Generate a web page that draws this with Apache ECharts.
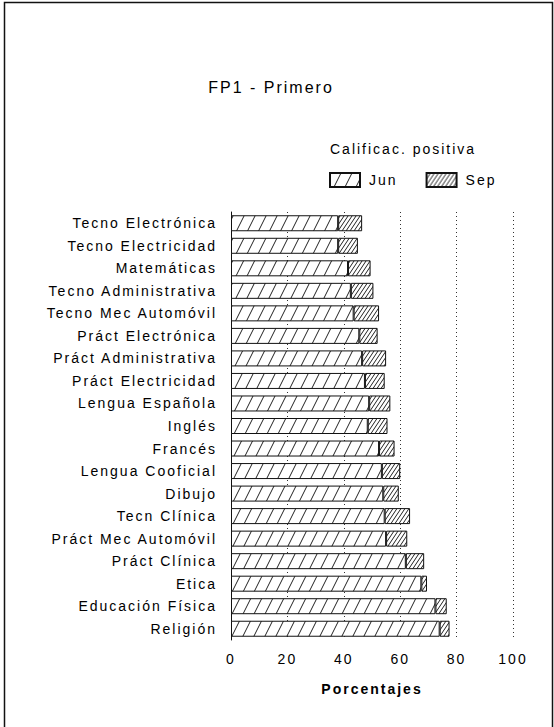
<!DOCTYPE html>
<html>
<head>
<meta charset="utf-8">
<script src="https://cdn.jsdelivr.net/npm/echarts@6/dist/echarts.min.js"></script>
<style>
  html, body { margin: 0; padding: 0; background: #fff; }
  #chart { width: 554px; height: 727px; }
  /* the scanned chart has wide tracking on all its text */
  #chart text { letter-spacing: 2px; }
</style>
</head>
<body>
<div id="chart"></div>
<script>
const categories = [
  "Tecno Electrónica", "Tecno Electricidad", "Matemáticas", "Tecno Administrativa",
  "Tecno Mec Automóvil", "Práct Electrónica", "Práct Administrativa", "Práct Electricidad",
  "Lengua Española", "Inglés", "Francés", "Lengua Cooficial", "Dibujo", "Tecn Clínica",
  "Práct Mec Automóvil", "Práct Clínica", "Etica", "Educación Física", "Religión"
];
const junValues = [38, 38, 41.5, 42.5, 43.5, 45.5, 46.5, 47.5, 49, 48.5, 52.5, 53.5, 54, 54.5, 55, 62, 67.5, 72.5, 74];
const sepValues = [8.5, 7, 8, 8, 9, 6.5, 8.5, 7, 7.5, 7, 5.5, 6.5, 5.5, 9, 7.5, 6.5, 2, 4, 3.5];
const xTicks = [0, 20, 40, 60, 80, 100];

const FONT = "Liberation Sans";

// diagonal hatch tile: lines go from bottom-left to top-right
function hatch(w, h) {
  const c = document.createElement("canvas");
  c.width = w; c.height = h;
  const ctx = c.getContext("2d");
  ctx.fillStyle = "#fff";
  ctx.fillRect(0, 0, w, h);
  ctx.strokeStyle = "#222";
  ctx.lineWidth = 1;
  for (let k = -1; k <= 1; k++) {
    ctx.beginPath();
    ctx.moveTo(k * w, h);
    ctx.lineTo(k * w + w, 0);
    ctx.stroke();
  }
  return c;
}

const chart = echarts.init(document.getElementById("chart"), null, { renderer: "svg" });

chart.setOption({
  animation: false,
  backgroundColor: "#fff",
  graphic: [{
    type: "rect",
    shape: { x: 4.5, y: 2.5, width: 548, height: 740 },
    style: { fill: "none", stroke: "#111", lineWidth: 1.5 },
    z: -1
  }],
  title: [
    {
      text: "FP1 - Primero",
      left: 266, top: 74, textAlign: "center",
      textStyle: { fontFamily: FONT, fontSize: 16, fontWeight: "normal", color: "#000" }
    },
    {
      text: "Calificac. positiva",
      left: 325, top: 137,
      textStyle: { fontFamily: FONT, fontSize: 14, fontWeight: "normal", color: "#000" }
    }
  ],
  legend: {
    left: 324, top: 167,
    itemWidth: 30, itemHeight: 14, itemGap: 34,
    icon: "rect",
    textStyle: { fontFamily: FONT, fontSize: 14, color: "#000", padding: [0, 0, 0, 4] },
    data: ["Jun", "Sep"]
  },
  grid: { left: 231, right: 41, top: 212, height: 428, containLabel: false },
  xAxis: {
    type: "value",
    min: 0, max: 100, interval: 20,
    axisLine: { show: false },
    axisTick: { show: false },
    axisLabel: {
      margin: 12, fontFamily: FONT, fontSize: 14, color: "#000",
      formatter: v => xTicks.includes(v) ? String(v) : ""
    },
    splitLine: { show: true, lineStyle: { type: [1, 3], color: "#333", width: 1 } },
    name: "Porcentajes",
    nameLocation: "middle",
    nameGap: 42,
    nameTextStyle: { fontFamily: FONT, fontSize: 14, fontWeight: "bold", color: "#000" }
  },
  yAxis: {
    type: "category",
    data: categories,
    inverse: true,
    axisLine: { show: true, lineStyle: { color: "#111", width: 1 } },
    axisTick: { show: false },
    axisLabel: { margin: 14, fontFamily: FONT, fontSize: 14, color: "#000" }
  },
  series: [
    {
      name: "Jun", type: "bar", stack: "t", data: junValues, barWidth: 16,
      itemStyle: { color: { image: hatch(11, 22), repeat: "repeat" }, borderColor: "#111", borderWidth: 1 }
    },
    {
      name: "Sep", type: "bar", stack: "t", data: sepValues, barWidth: 16,
      itemStyle: { color: { image: hatch(4, 6), repeat: "repeat" }, borderColor: "#111", borderWidth: 1 }
    }
  ]
});
</script>
</body>
</html>
